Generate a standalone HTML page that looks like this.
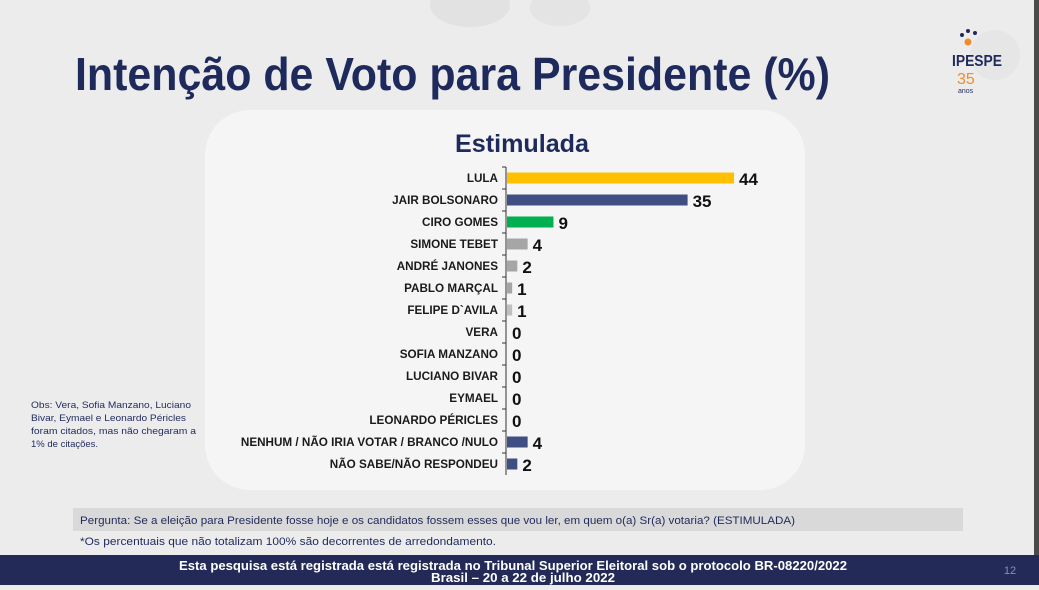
<!DOCTYPE html>
<html><head><meta charset="utf-8"><style>
body{margin:0;width:1039px;height:585px;overflow:hidden;background:#ececec;font-family:"Liberation Sans",sans-serif}
</style></head><body>
<svg width="1039" height="585" xmlns="http://www.w3.org/2000/svg">
<rect width="1039" height="585" fill="#ececec"/>
<ellipse cx="470" cy="5" rx="40" ry="22" fill="#e2e2e2"/>
<ellipse cx="560" cy="8" rx="30" ry="18" fill="#e4e4e4"/>
<rect x="1034" y="0" width="5" height="555" fill="#4a4a4a"/>
<text x="75" y="90" font-size="46" font-weight="bold" fill="#1f2a5c" textLength="755" lengthAdjust="spacingAndGlyphs">Intenção de Voto para Presidente (%)</text>
<g>
<circle cx="995" cy="55" r="25" fill="#e6e6e6"/>
<circle cx="968" cy="42" r="3.5" fill="#f28c28"/>
<circle cx="962" cy="35" r="2" fill="#1f2a5c"/><circle cx="968" cy="31" r="2" fill="#1f2a5c"/><circle cx="975" cy="33" r="2" fill="#1f2a5c"/>
<text x="952" y="66" font-size="16" font-weight="bold" fill="#1f2a5c" textLength="50" lengthAdjust="spacingAndGlyphs">IPESPE</text>
<text x="957" y="84" font-size="16" fill="#f28c28">35</text>
<text x="958" y="93" font-size="7" fill="#1f2a5c">anos</text>
</g>
<rect x="205" y="110" width="600" height="380" rx="45" fill="#f5f5f5"/>
<text x="522" y="152" font-size="25" font-weight="bold" fill="#1f2a5c" text-anchor="middle" textLength="134" lengthAdjust="spacingAndGlyphs">Estimulada</text>
<g id="chart"></g>
<g font-size="9.5" fill="#1f2a5c">
<text x="31" y="408" textLength="160" lengthAdjust="spacingAndGlyphs">Obs: Vera, Sofia Manzano, Luciano</text>
<text x="31" y="421" textLength="155" lengthAdjust="spacingAndGlyphs">Bivar, Eymael e Leonardo Péricles</text>
<text x="31" y="434" textLength="165" lengthAdjust="spacingAndGlyphs">foram citados, mas não chegaram a</text>
<text x="31" y="447">1% de citações.</text>
</g>
<rect x="73" y="508" width="890" height="23" fill="#d9d9d9"/>
<text x="80" y="524" font-size="11" fill="#1f2a5c" textLength="715" lengthAdjust="spacingAndGlyphs">Pergunta:  Se a eleição para Presidente fosse hoje e os candidatos fossem esses que vou ler, em quem o(a) Sr(a) votaria? (ESTIMULADA)</text>
<text x="80" y="545" font-size="11" fill="#1f2a5c" textLength="416" lengthAdjust="spacingAndGlyphs">*Os percentuais que não totalizam 100% são decorrentes de arredondamento.</text>
<rect x="0" y="555" width="1039" height="30" fill="#232a57"/>
<text x="513" y="570" font-size="13" font-weight="bold" fill="#fff" text-anchor="middle" textLength="668" lengthAdjust="spacingAndGlyphs">Esta pesquisa está registrada está registrada no Tribunal Superior Eleitoral sob o protocolo BR-08220/2022</text>
<text x="523" y="582" font-size="13" font-weight="bold" fill="#fff" text-anchor="middle" textLength="184" lengthAdjust="spacingAndGlyphs">Brasil – 20 a 22 de julho 2022</text>
<text x="1010" y="574" font-size="11" fill="#8890b0" text-anchor="middle">12</text>
</svg>
<script>
const categories=["LULA","JAIR BOLSONARO","CIRO GOMES","SIMONE TEBET","ANDRÉ JANONES","PABLO MARÇAL","FELIPE D`AVILA","VERA","SOFIA MANZANO","LUCIANO BIVAR","EYMAEL","LEONARDO PÉRICLES","NENHUM / NÃO IRIA VOTAR / BRANCO /NULO","NÃO SABE/NÃO RESPONDEU"];
const values=[44,35,9,4,2,1,1,0,0,0,0,0,4,2];
const colors=["#ffc000","#3f4f83","#00b050","#a6a6a6","#a6a6a6","#a6a6a6","#bfbfbf","#a6a6a6","#a6a6a6","#a6a6a6","#a6a6a6","#a6a6a6","#3f4f83","#3f4f83"];
const NS="http://www.w3.org/2000/svg";
const g=document.getElementById("chart");
const x0=507, scale=5.16, y0=178, step=22, bh=11;
const xs=v=>x0+v*scale, ys=i=>y0+i*step;
const axis=document.createElementNS(NS,"line");
axis.setAttribute("x1",506);axis.setAttribute("x2",506);axis.setAttribute("y1",ys(0)-11);axis.setAttribute("y2",ys(categories.length-1)+11);
axis.setAttribute("stroke","#333");axis.setAttribute("stroke-width","1");


g.appendChild(axis);
categories.forEach((c,i)=>{
  const y=ys(i);
  const tk=document.createElementNS(NS,"line");
  tk.setAttribute("x1",502);tk.setAttribute("x2",506);tk.setAttribute("y1",y-11);tk.setAttribute("y2",y-11);tk.setAttribute("stroke","#333");
  
  
  g.appendChild(tk);
  const lb=document.createElementNS(NS,"text");
  lb.setAttribute("x",498);lb.setAttribute("y",y+4);lb.setAttribute("text-anchor","end");
  lb.setAttribute("font-size","11.7");lb.setAttribute("font-weight","bold");lb.setAttribute("fill","#1a1a1a");
  lb.textContent=c;
  
  
  g.appendChild(lb);
  const r=document.createElementNS(NS,"rect");
  r.setAttribute("x",x0);r.setAttribute("y",y-bh/2);r.setAttribute("width",Math.max(0,xs(values[i])-x0));r.setAttribute("height",bh);r.setAttribute("fill",colors[i]);
  
  
  g.appendChild(r);
  const vt=document.createElementNS(NS,"text");
  vt.setAttribute("x",xs(values[i])+5);vt.setAttribute("y",y+7);
  vt.setAttribute("font-size","17");vt.setAttribute("font-weight","bold");vt.setAttribute("fill","#111");
  vt.textContent=values[i];
  
  
  g.appendChild(vt);
});
</script>
</body></html>
